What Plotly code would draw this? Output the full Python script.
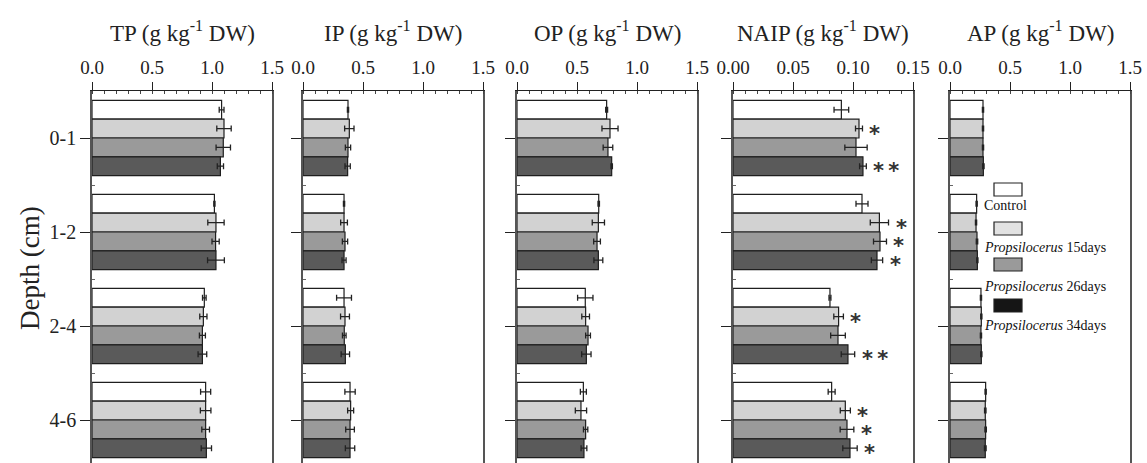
import plotly.graph_objects as go

# ---------------- data ----------------
depths = ["0-1", "1-2", "2-4", "4-6"]
treatments = ["Control", "Propsilocerus 15days", "Propsilocerus 26days", "Propsilocerus 34days"]
panel_titles = ["TP (g kg<sup>-1</sup> DW)", "IP (g kg<sup>-1</sup> DW)", "OP (g kg<sup>-1</sup> DW)",
                "NAIP (g kg<sup>-1</sup> DW)", "AP (g kg<sup>-1</sup> DW)"]

# values per treatment (rows) over depths (columns)
tp_mean = [[1.08, 1.02, 0.936, 0.947],
           [1.10, 1.033, 0.928, 0.947],
           [1.094, 1.03, 0.92, 0.947],
           [1.07, 1.033, 0.92, 0.953]]
tp_err = [[0.02, 0.005, 0.015, 0.042],
          [0.06, 0.068, 0.03, 0.044],
          [0.06, 0.03, 0.025, 0.032],
          [0.026, 0.07, 0.036, 0.043]]

ip_mean = [[0.375, 0.342, 0.342, 0.392],
           [0.386, 0.342, 0.35, 0.397],
           [0.375, 0.35, 0.344, 0.392],
           [0.372, 0.342, 0.353, 0.392]]
ip_err = [[0.005, 0.005, 0.062, 0.043],
          [0.039, 0.028, 0.037, 0.025],
          [0.022, 0.022, 0.015, 0.036],
          [0.022, 0.017, 0.035, 0.039]]

op_mean = [[0.747, 0.681, 0.569, 0.553],
           [0.775, 0.678, 0.572, 0.533],
           [0.758, 0.667, 0.592, 0.572],
           [0.789, 0.678, 0.578, 0.558]]
op_err = [[0.008, 0.006, 0.064, 0.025],
          [0.067, 0.051, 0.032, 0.047],
          [0.04, 0.028, 0.02, 0.018],
          [0.006, 0.037, 0.039, 0.024]]

naip_mean = [[0.0903, 0.1075, 0.0808, 0.0822],
             [0.105, 0.122, 0.088, 0.0936],
             [0.1025, 0.1225, 0.0875, 0.095],
             [0.1083, 0.120, 0.0958, 0.0975]]
naip_err = [[0.0061, 0.005, 0.0008, 0.0029],
            [0.0029, 0.0076, 0.004, 0.0042],
            [0.0093, 0.0054, 0.0061, 0.0057],
            [0.0028, 0.0047, 0.0056, 0.006]]
naip_sig = [["", "", "", ""],
            ["*", "*", "*", "*"],
            ["", "*", "", "*"],
            ["**", "*", "**", "*"]]

ap_mean = [[0.275, 0.222, 0.258, 0.297],
           [0.275, 0.217, 0.261, 0.294],
           [0.275, 0.225, 0.258, 0.297],
           [0.278, 0.228, 0.261, 0.294]]
ap_err = [[0.005, 0.005, 0.005, 0.005],
          [0.005, 0.005, 0.005, 0.006],
          [0.005, 0.006, 0.005, 0.006],
          [0.006, 0.005, 0.005, 0.007]]

x_ranges = [[0, 1.5], [0, 1.5], [0, 1.5], [0, 0.15], [0, 1.5]]
x_ticks = [[0, 0.5, 1.0, 1.5]] * 3 + [[0, 0.05, 0.10, 0.15]] + [[0, 0.5, 1.0, 1.5]]
x_formats = [".1f", ".1f", ".1f", ".2f", ".1f"]

bar_colors = ["#ffffff", "#d2d2d2", "#9a9a9a", "#5a5a5a"]
legend_colors = ["#ffffff", "#e2e2e2", "#9a9a9a", "#151515"]

# ---------------- figure ----------------
W, H = 1147, 463
FONT = "Liberation Serif, Times New Roman, serif"
panel_px = [(92, 272), (303, 483), (517, 697), (733, 913), (950, 1130)]
top_px = 91

means = [tp_mean, ip_mean, op_mean, naip_mean, ap_mean]
errs = [tp_err, ip_err, op_err, naip_err, ap_err]

fig = go.Figure()
layout = dict(
    template="none",
    width=W, height=H,
    margin=dict(l=0, r=0, t=0, b=0, pad=0),
    paper_bgcolor="white", plot_bgcolor="white",
    barmode="group", bargap=0.2, bargroupgap=0.0,
    showlegend=False,
    font=dict(family=FONT, color="#111"),
)

ycenter_px = 138
unit_px = 94
y_top = -(ycenter_px - top_px) / unit_px
y_bot = (H - ycenter_px) / unit_px

annotations = []
shapes = []
for p in range(5):
    xa = "x" if p == 0 else f"x{p+1}"
    ya = "y" if p == 0 else f"y{p+1}"
    xkey = "xaxis" if p == 0 else f"xaxis{p+1}"
    ykey = "yaxis" if p == 0 else f"yaxis{p+1}"
    for t in range(4):
        fig.add_trace(go.Bar(
            y=list(range(len(depths))), x=means[p][t], orientation="h",
            name=treatments[t], xaxis=xa, yaxis=ya,
            marker=dict(color=bar_colors[t], line=dict(color="#1e1e1e", width=1.2)),
            error_x=dict(type="data", array=errs[p][t], color="#222", thickness=1.3, width=3),
            offsetgroup=str(t),
        ))
    x0, x1 = panel_px[p]
    span = x_ranges[p][1] - x_ranges[p][0]
    layout[xkey] = dict(
        domain=[x0 / W, x1 / W], range=x_ranges[p], side="top", anchor=ya,
        automargin=False,
        showline=True, linecolor="#222", linewidth=1.3, mirror=False,
        tickvals=x_ticks[p], tickformat=x_formats[p], ticks="outside", ticklen=8,
        tickwidth=1, tickcolor="#222",
        minor=dict(dtick=span / 15, ticks="inside", ticklen=3, tickcolor="#444"),
        showgrid=False, zeroline=False, fixedrange=True,
        tickfont=dict(family=FONT, size=19, color="#222"),
    )
    layout[ykey] = dict(
        domain=[0, 1 - top_px / H], range=[y_bot, y_top], anchor=xa,
        automargin=False,
        showline=True, linecolor="#555", linewidth=1.5, mirror=True,
        tickvals=list(range(len(depths))), ticktext=depths if p == 0 else [""] * 4,
        showticklabels=(p == 0),
        ticks="outside", ticklen=10, tickwidth=1.2, tickcolor="#222",
        minor=dict(tickvals=[0.5, 1.5, 2.5], ticks="inside", ticklen=3, tickcolor="#666"),
        showgrid=False, zeroline=False, fixedrange=True,
        tickfont=dict(family=FONT, size=20, color="#222"),
    )
    annotations.append(dict(
        text=panel_titles[p], xref="paper", yref="paper",
        x=(x0 + x1) / 2 / W, y=1 - 31 / H, xanchor="center", yanchor="middle",
        showarrow=False, font=dict(family=FONT, size=23, color="#222"),
    ))

# significance marks on NAIP panel
offsets = [-0.3, -0.1, 0.1, 0.3]
for t in range(4):
    for d in range(len(depths)):
        s = naip_sig[t][d]
        if s:
            annotations.append(dict(
                text="<b>" + "\u2009".join(s) + "</b>", xref="x4", yref="y4",
                x=naip_mean[t][d] + naip_err[t][d], y=d + offsets[t],
                xanchor="left", yanchor="middle", xshift=5, yshift=-5,
                showarrow=False, font=dict(family="DejaVu Sans", size=21, color="#333"),
            ))

# y axis title
annotations.append(dict(
    text="Depth (cm)", xref="paper", yref="paper", x=30 / W, y=1 - 268 / H,
    textangle=-90, xanchor="center", yanchor="middle", showarrow=False,
    font=dict(family=FONT, size=27, color="#222"),
))

# custom legend (swatch above label)
leg_sw_y = [183, 222, 258, 299]
leg_tx_y = [206, 247, 286, 325]
leg_labels = ["Control", "<i>Propsilocerus</i> 15days", "<i>Propsilocerus</i> 26days",
              "<i>Propsilocerus</i> 34days"]
for i in range(4):
    shapes.append(dict(type="rect", xref="paper", yref="paper",
                       x0=994 / W, x1=1022 / W, y0=1 - (leg_sw_y[i] + 13) / H, y1=1 - leg_sw_y[i] / H,
                       fillcolor=legend_colors[i], line=dict(color="#222", width=1.2)))
    annotations.append(dict(
        text=leg_labels[i], xref="paper", yref="paper", x=982 / W, y=1 - leg_tx_y[i] / H,
        xanchor="left", yanchor="middle", showarrow=False,
        font=dict(family=FONT, size=14, color="#111"),
    ))

layout["annotations"] = annotations
layout["shapes"] = shapes
fig.update_layout(**layout)
fig.write_html("out.html")
